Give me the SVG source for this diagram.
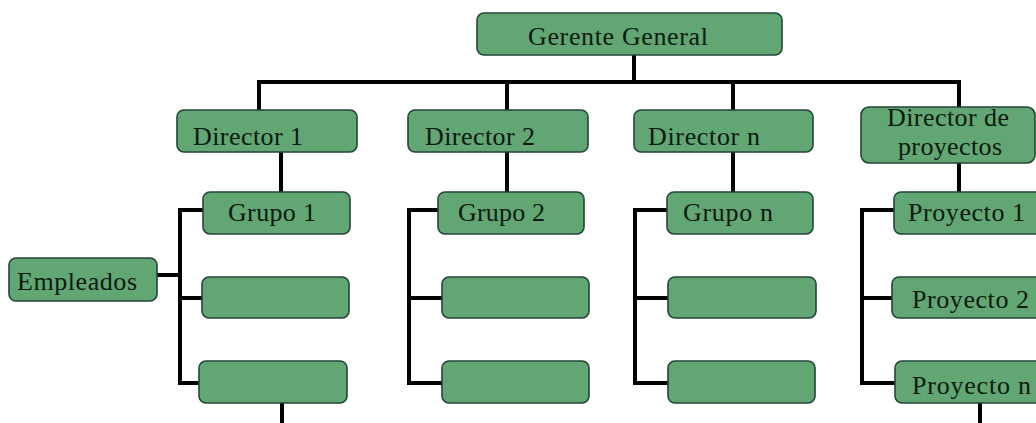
<svg xmlns="http://www.w3.org/2000/svg" width="1036" height="423" viewBox="0 0 1036 423">
<style>
.box{fill:#62a673;stroke:#22443a;stroke-width:1.6}
.t{font-family:"Liberation Serif","Times New Roman",serif;font-size:26px;fill:#0b1a10}
.c{stroke:#000;stroke-width:4;fill:none;stroke-linecap:square;stroke-linejoin:miter}
</style>
<rect width="1036" height="423" fill="#fff"/>
<g id="connectors">
<path class="c" d="M634 55V82M259 82H959M259 82V110M507 82V110M733 82V110M959 82V107"/>
<path class="c" d="M281 152V192M507 152V192M733 152V192M959 163V192"/>
<path class="c" d="M203 210H180V383H199M180 298H202M157 275H180"/>
<path class="c" d="M438 210H409V383H442M409 298H442"/>
<path class="c" d="M667 210H635V383H668M635 298H668"/>
<path class="c" d="M894 210H862V383H895M862 298H892"/>
<path class="c" d="M282 403V423M980 403V423"/>
</g>
<g id="gerente"><rect class="box" x="477" y="13" width="305" height="42" rx="7"/><text class="t" x="528" y="45" textLength="180">Gerente General</text></g>
<g id="director1"><rect class="box" x="177" y="110" width="180" height="42" rx="7"/><text class="t" x="193" y="145" textLength="110">Director 1</text></g>
<g id="director2"><rect class="box" x="408" y="110" width="180" height="42" rx="7"/><text class="t" x="425" y="145" textLength="110">Director 2</text></g>
<g id="directorn"><rect class="box" x="634" y="110" width="179" height="42" rx="7"/><text class="t" x="648" y="145" textLength="112">Director n</text></g>
<g id="directorproyectos"><rect class="box" x="861" y="107" width="174" height="56" rx="8"/><text class="t" x="887" y="126" textLength="122">Director de</text><text class="t" x="898" y="155" textLength="104">proyectos</text></g>
<g id="grupo1"><rect class="box" x="203" y="192" width="147" height="42" rx="7"/><text class="t" x="228" y="221" textLength="88">Grupo 1</text></g>
<g id="grupo2"><rect class="box" x="438" y="192" width="146" height="42" rx="7"/><text class="t" x="458" y="221" textLength="87">Grupo 2</text></g>
<g id="grupon"><rect class="box" x="667" y="192" width="146" height="42" rx="7"/><text class="t" x="683" y="221" textLength="90">Grupo n</text></g>
<g id="proyecto1"><rect class="box" x="894" y="192" width="150" height="42" rx="7"/><text class="t" x="908" y="221" textLength="117">Proyecto 1</text></g>
<g id="empleados"><rect class="box" x="9" y="258" width="148" height="43" rx="7"/><text class="t" x="17" y="290" textLength="120">Empleados</text></g>
<g id="g1b2"><rect class="box" x="202" y="277" width="147" height="41" rx="7"/></g>
<g id="g1b3"><rect class="box" x="199" y="361" width="148" height="42" rx="7"/></g>
<g id="g2b2"><rect class="box" x="442" y="277" width="147" height="41" rx="7"/></g>
<g id="g2b3"><rect class="box" x="442" y="361" width="147" height="42" rx="7"/></g>
<g id="gnb2"><rect class="box" x="668" y="277" width="148" height="41" rx="7"/></g>
<g id="gnb3"><rect class="box" x="668" y="361" width="147" height="42" rx="7"/></g>
<g id="proyecto2"><rect class="box" x="892" y="277" width="152" height="41" rx="7"/><text class="t" x="912" y="308" textLength="117">Proyecto 2</text></g>
<g id="proyecton"><rect class="box" x="895" y="361" width="149" height="42" rx="7"/><text class="t" x="912" y="394" textLength="119">Proyecto n</text></g>
</svg>
